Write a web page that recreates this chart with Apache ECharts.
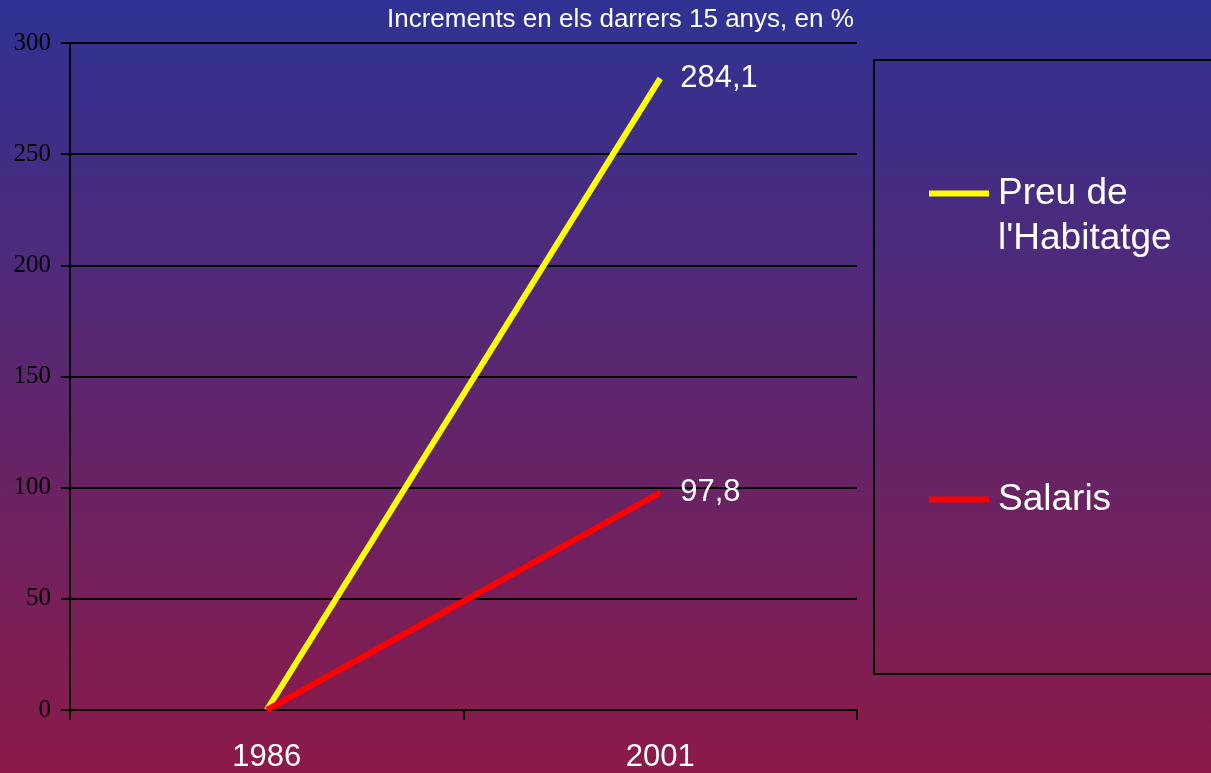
<!DOCTYPE html>
<html>
<head>
<meta charset="utf-8">
<script src="https://cdn.jsdelivr.net/npm/echarts@6/dist/echarts.min.js"></script>
<style>
  html, body { margin: 0; padding: 0; }
  #chart { width: 1211px; height: 773px; }
</style>
</head>
<body>
<div id="chart"></div>
<script>
const years = ['1986', '2001'];
const preuHabitatge = [0, 284.1];
const salaris = [0, 97.8];
const yTicks = [0, 50, 100, 150, 200, 250, 300];

const chart = echarts.init(document.getElementById('chart'));

const sans = 'Liberation Sans, Arial';
const fmtComma = (p) => String(p.value).replace('.', ',');

const option = {
  backgroundColor: {
    type: 'linear', x: 0, y: 0, x2: 0, y2: 1,
    colorStops: [
      { offset: 0, color: '#2f3294' },
      { offset: 1, color: '#8c1a48' }
    ]
  },
  title: {
    text: 'Increments en els darrers 15 anys, en %',
    left: 387,
    top: 7,
    padding: 0,
    textStyle: { color: '#ffffff', fontSize: 26, fontWeight: 'normal', fontFamily: sans }
  },
  graphic: [
    {
      type: 'rect',
      shape: { x: 874, y: 60, width: 360, height: 614 },
      style: { fill: 'none', stroke: '#000000', lineWidth: 2 },
      z: 1
    }
  ],
  legend: [
    {
      data: ["Preu de l'Habitatge"],
      left: 929,
      top: 124,
      padding: 0,
      icon: 'rect',
      itemWidth: 60,
      itemHeight: 6,
      formatter: () => "\nPreu de\nl'Habitatge",
      textStyle: { color: '#ffffff', fontSize: 37, lineHeight: 45, fontFamily: sans, padding: [4, 0, 0, 4] }
    },
    {
      data: ['Salaris'],
      left: 929,
      top: 475,
      padding: 0,
      icon: 'rect',
      itemWidth: 60,
      itemHeight: 6,
      textStyle: { color: '#ffffff', fontSize: 37, lineHeight: 45, fontFamily: sans, padding: [4, 0, 0, 4] }
    }
  ],
  grid: { left: 70, right: 354, top: 43, bottom: 62 },
  xAxis: {
    type: 'category',
    data: years,
    boundaryGap: true,
    axisLine: { lineStyle: { color: '#000000', width: 2 } },
    axisTick: { show: true, length: 10, lineStyle: { color: '#000000', width: 2 } },
    axisLabel: { color: '#ffffff', fontSize: 31, margin: 32, fontFamily: sans }
  },
  yAxis: {
    type: 'value',
    min: yTicks[0],
    max: yTicks[yTicks.length - 1],
    interval: 50,
    axisLine: { show: true, lineStyle: { color: '#000000', width: 2 } },
    axisTick: { show: true, length: 9, lineStyle: { color: '#000000', width: 2 } },
    axisLabel: { color: '#000000', fontSize: 25, margin: 19, fontFamily: 'Liberation Serif, Times New Roman, serif' },
    splitLine: { show: true, lineStyle: { color: '#000000', width: 2 } }
  },
  series: [
    {
      name: "Preu de l'Habitatge",
      type: 'line',
      data: preuHabitatge,
      symbol: 'none',
      color: '#ffff00',
      lineStyle: { color: '#ffff00', width: 6 },
      endLabel: { show: true, formatter: fmtComma, color: '#ffffff', fontSize: 31, distance: 20, fontFamily: sans }
    },
    {
      name: 'Salaris',
      type: 'line',
      data: salaris,
      symbol: 'none',
      color: '#ff0000',
      lineStyle: { color: '#ff0000', width: 6 },
      endLabel: { show: true, formatter: fmtComma, color: '#ffffff', fontSize: 31, distance: 20, fontFamily: sans }
    }
  ]
};

chart.setOption(option);
</script>
</body>
</html>
